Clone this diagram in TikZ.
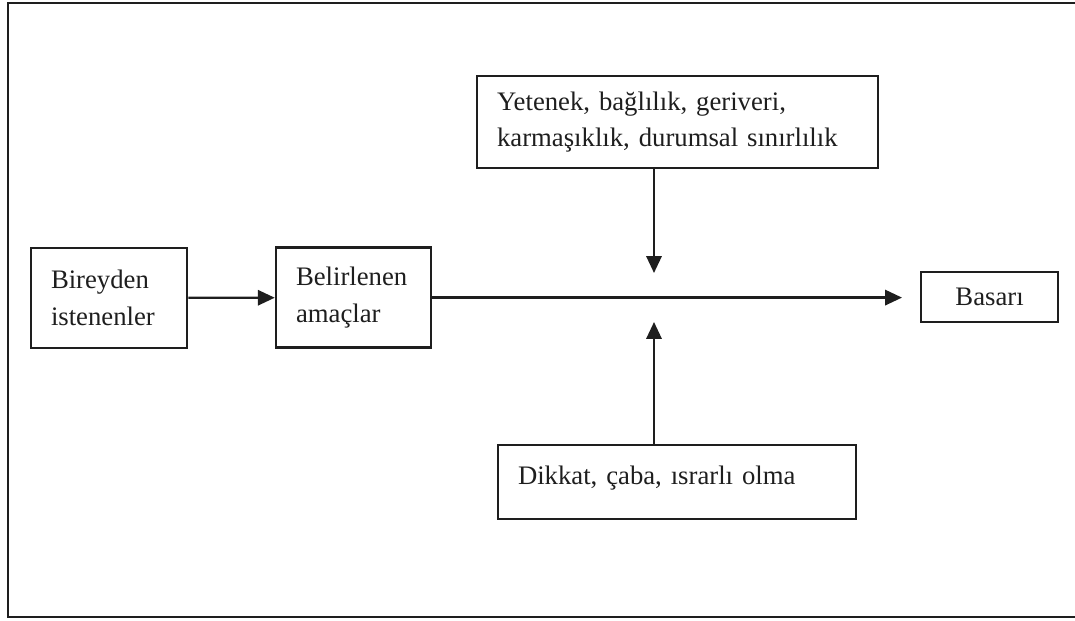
\documentclass[tikz,border=0pt]{standalone}
\usepackage{fontspec}
\setmainfont{Liberation Serif}
\usepackage{xcolor}
\usetikzlibrary{calc,arrows.meta,positioning}
\definecolor{inkx}{HTML}{1E1E1E}
\tikzset{
  ar/.style={-{Triangle[length=4.2mm,width=3.8mm]},line width=1.6pt,inkx},
  box/.style={draw=inkx,line width=1.8pt,align=left,inner xsep=5mm,inner ysep=0pt,
    font=\fontsize{19}{26}\selectfont,text=inkx}
}

\begin{document}
\begin{tikzpicture}
\useasboundingbox (0,0) rectangle (26.875,15.5);
\draw[inkx,line width=2pt] (26.875,15.425) -- (0.2,15.425) -- (0.2,0.075) -- (26.875,0.075);
\node[box,text width=2.9cm,minimum height=2.5cm] (birey) at (2.725,8.05) {Bireyden\\istenenler};
\node[box,text width=2.875cm,minimum height=2.5cm] (amac) at (8.8375,8.06) {Belirlenen\\amaçlar};
\node[box,text width=9.025cm,minimum height=2.3cm] (etken) at (16.94,12.45) {Yetenek, bağlılık, geriveri,\\karmaşıklık, durumsal sınırlılık};
\node[box,text width=7.95cm,text height=1.0cm,text depth=0.85cm] (caba) at (16.925,3.45) {Dikkat, çaba, ısrarlı olma};
\node[box,align=center,text width=2.425cm,minimum height=1.25cm] (basari) at (24.74,8.075) {Basarı};
\coordinate (hedef) at (22.55,8.06);
\coordinate (ust) at (16.35,8.675);
\coordinate (alt) at (16.35,7.45);
\draw[ar] (birey) -- (amac);
\draw[ar] (amac.east |- hedef) -- (hedef);
\draw[ar] (etken.south -| ust) -- (ust);
\draw[ar] (caba.north -| alt) -- (alt);
\end{tikzpicture}
\end{document}
